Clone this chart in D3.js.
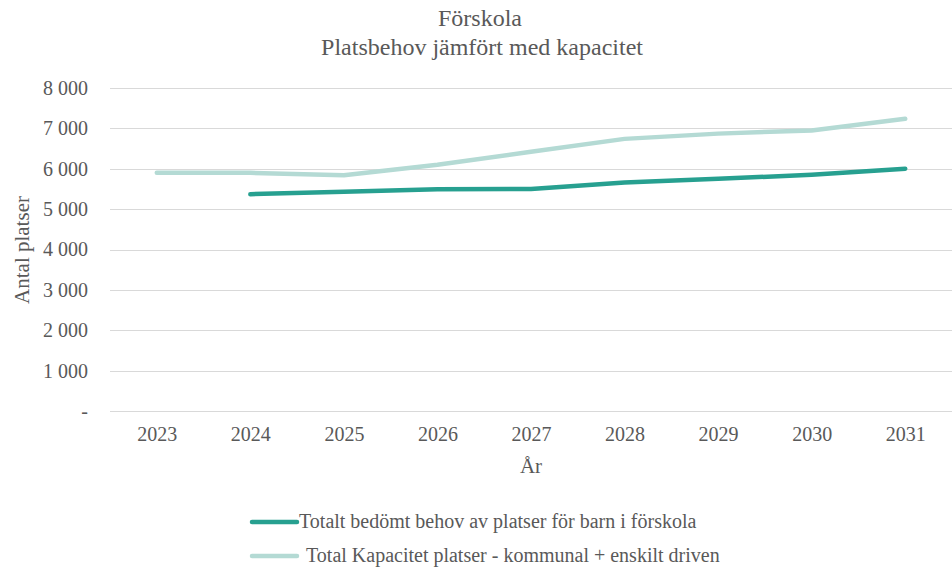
<!DOCTYPE html>
<html>
<head>
<meta charset="utf-8">
<script src="https://cdn.jsdelivr.net/npm/d3@7"></script>
<style>
  body { margin: 0; background: #fff; }
  svg text { font-family: "Liberation Serif", "Times New Roman", serif; }
</style>
</head>
<body>
<svg id="chart" width="952" height="570"></svg>
<script>
// DATA
var years = ['2023', '2024', '2025', '2026', '2027', '2028', '2029', '2030', '2031'];
var behov = [null, 5370, 5430, 5490, 5500, 5660, 5750, 5850, 6000];
var kapacitet = [5900, 5900, 5840, 6100, 6420, 6740, 6870, 6950, 7240];
var yTicks = [0, 1000, 2000, 3000, 4000, 5000, 6000, 7000, 8000];
var seriesNames = ['Totalt bedömt behov av platser för barn i förskola',
                   'Total Kapacitet platser - kommunal + enskilt driven'];
var seriesColors = ['#27a090', '#b4dad4'];

var svg = d3.select('#chart');
var textColor = '#595959';

var x = d3.scalePoint().domain(years).range([110, 952]).padding(0.5);
var y = d3.scaleLinear().domain([0, 8000]).range([411, 88]);

// title
svg.append('text').attr('x', 480).attr('y', 26).attr('text-anchor', 'middle')
    .attr('font-size', 24).attr('fill', textColor).text('Förskola');
svg.append('text').attr('x', 482).attr('y', 55).attr('text-anchor', 'middle')
    .attr('font-size', 24).attr('fill', textColor).text('Platsbehov jämfört med kapacitet');

// gridlines
svg.selectAll('.grid').data(yTicks).enter().append('line')
    .attr('x1', 110).attr('x2', 952)
    .attr('y1', function(d){ return Math.round(y(d)) + 0.5; })
    .attr('y2', function(d){ return Math.round(y(d)) + 0.5; })
    .attr('stroke', '#d9d9d9').attr('stroke-width', 1);

// y axis labels, thousands with a space, zero as a dash
function fmt(d){
    if (d === 0) return '-';
    return d3.format(',')(d).replace(/,/g, ' ');
}
var yAxis = d3.axisLeft(y).tickValues(yTicks).tickFormat(fmt).tickSize(0).tickPadding(0);
var gy = svg.append('g').attr('transform', 'translate(88,0)').call(yAxis);
gy.select('.domain').remove();
gy.attr('font-family', null);
gy.selectAll('text').attr('font-size', 20).attr('fill', textColor);

// x axis labels
var xAxis = d3.axisBottom(x).tickSize(0).tickPadding(0);
var gx = svg.append('g').attr('transform', 'translate(0,427)').call(xAxis);
gx.select('.domain').remove();
gx.attr('font-family', null);
gx.selectAll('text').attr('font-size', 20).attr('fill', textColor);

// axis titles
svg.append('text').attr('transform', 'translate(29,250) rotate(-90)')
    .attr('text-anchor', 'middle').attr('font-size', 21).attr('fill', textColor)
    .text('Antal platser');
svg.append('text').attr('x', 531).attr('y', 473).attr('text-anchor', 'middle')
    .attr('font-size', 21).attr('fill', textColor).text('År');

// lines
var line = d3.line()
    .defined(function(d){ return d.v !== null; })
    .x(function(d){ return x(d.year); })
    .y(function(d){ return y(d.v); });

var seriesData = [behov, kapacitet];
// draw capacity first so demand sits on top
[1, 0].forEach(function(i){
    var pts = years.map(function(yr, j){ return { year: yr, v: seriesData[i][j] }; });
    svg.append('path').datum(pts)
        .attr('d', line)
        .attr('fill', 'none')
        .attr('stroke', seriesColors[i])
        .attr('stroke-width', 4.5)
        .attr('stroke-linecap', 'round')
        .attr('stroke-linejoin', 'round');
});

// legend
var legendY = [522, 556];
var legendTextX = [299, 306];
seriesNames.forEach(function(name, i){
    svg.append('line')
        .attr('x1', 252).attr('x2', 297)
        .attr('y1', legendY[i]).attr('y2', legendY[i])
        .attr('stroke', seriesColors[i]).attr('stroke-width', 4.5)
        .attr('stroke-linecap', 'round');
    svg.append('text').attr('x', legendTextX[i]).attr('y', legendY[i] + 6)
        .attr('font-size', 20).attr('fill', textColor).text(name);
});
</script>
</body>
</html>
